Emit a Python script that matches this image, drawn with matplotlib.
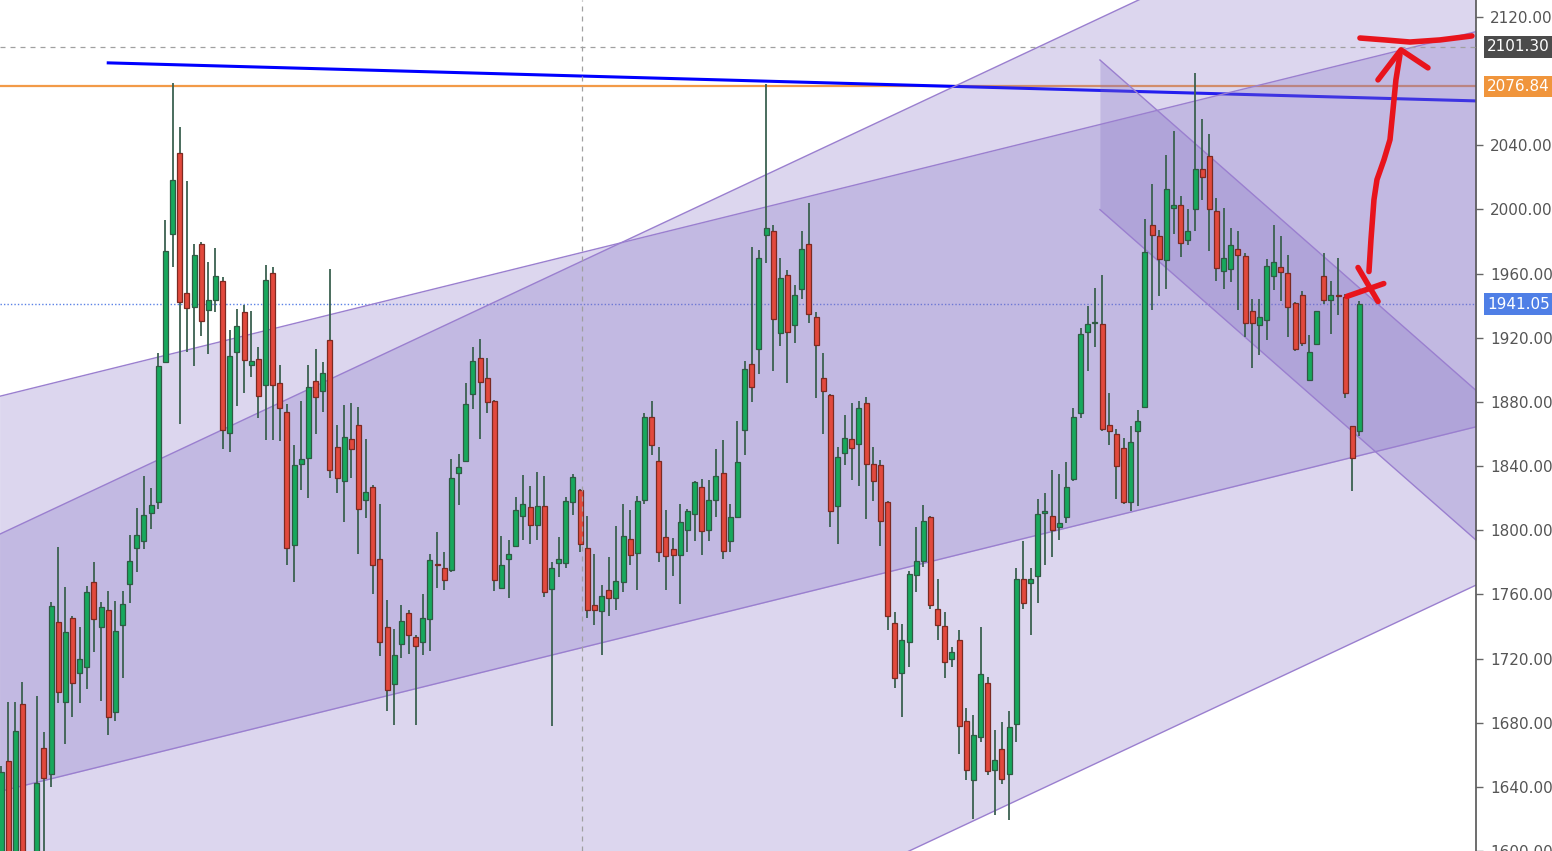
import matplotlib.pyplot as plt
import numpy as np

# daily candles (bar index = position from the left edge)
opens = [
    1590, 1656.4, 1596, 1691.9, 1592, 1585, 1664.5, 1647.7, 1742.9, 1693.1,
    1745.4, 1711.1, 1714.9, 1767.8, 1739.8, 1750.4, 1686.9, 1741.0, 1766.5, 1788.9,
    1793.5, 1810.8, 1817.7, 1905.0, 1985.0, 2034.9, 1948.2, 1939.3, 1978.4, 1937.2,
    1943.5, 1955.1, 1860.4, 1911.1, 1935.9, 1903.1, 1906.9, 1890.7, 1960.1, 1892.0,
    1873.6, 1790.8, 1841.2, 1844.9, 1893.0, 1886.8, 1918.4, 1852.0, 1830.4, 1856.9,
    1865.9, 1819.0, 1827.1, 1782.1, 1739.4, 1704.0, 1729.2, 1748.3, 1733.5, 1730.2,
    1744.8, 1779.2, 1776.2, 1775.0, 1835.4, 1843.1, 1885.2, 1907.6, 1894.9, 1880.6,
    1764.2, 1782.1, 1790.4, 1808.9, 1814.3, 1803.3, 1815.3, 1763.4, 1779.6, 1779.6,
    1817.4, 1825.0, 1788.9, 1753.1, 1749.9, 1762.8, 1757.7, 1768.0, 1794.5, 1785.8,
    1819.0, 1870.6, 1843.3, 1795.6, 1788.0, 1784.8, 1800.3, 1810.1, 1826.7, 1800.3,
    1819.0, 1835.6, 1793.5, 1808.0, 1862.6, 1903.9, 1913.2, 1983.9, 1986.4, 1922.7,
    1959.3, 1927.7, 1950.1, 1978.5, 1932.9, 1895.2, 1884.2, 1815.3, 1848.1, 1856.8,
    1853.7, 1879.6, 1841.6, 1840.6, 1817.4, 1742.3, 1710.9, 1730.2, 1772.3, 1781.0,
    1808.4, 1751.0, 1740.2, 1719.9, 1731.7, 1681.1, 1644.1, 1671.1, 1704.9, 1650.8,
    1663.7, 1647.7, 1678.9, 1769.7, 1767.0, 1771.5, 1811.0, 1808.6, 1802.1, 1808.2,
    1832.1, 1873.3, 1923.7, 1929.0, 1928.8, 1865.9, 1859.9, 1851.2, 1817.7, 1861.6,
    1877.1, 1990.1, 1983.3, 1968.3, 2000.7, 2003.0, 1981.2, 2000.5, 2025.4, 2033.1,
    1998.8, 1961.5, 1962.6, 1975.6, 1970.8, 1936.6, 1927.7, 1930.8, 1958.8, 1964.0,
    1960.5, 1941.8, 1946.4, 1893.7, 1915.9, 1958.8, 1943.3, 1946.8, 1945.6, 1864.7,
    1861.6,
]
highs = [
    1653.3, 1693.1, 1693.1, 1705.6, 1598, 1696.8, 1674.4, 1755.3, 1789.6, 1764.7,
    1746.6, 1739.8, 1765.3, 1780.2, 1755.3, 1762.2, 1755.9, 1762.2, 1797.0, 1813.8,
    1833.9, 1826.1, 1910.7, 1993.4, 2079.1, 2051.7, 2018.0, 1978.7, 1979.7, 1967.1,
    1975.9, 1957.6, 1924.6, 1938.0, 1940.2, 1937.0, 1914.5, 1965.4, 1964.4, 1902.8,
    1878.6, 1853.2, 1880.6, 1902.8, 1912.8, 1905.1, 1962.6, 1865.9, 1877.9, 1879.6,
    1876.7, 1857.1, 1828.2, 1816.3, 1756.2, 1738.5, 1753.3, 1750.0, 1734.5, 1760.3,
    1785.2, 1798.7, 1786.2, 1844.7, 1847.4, 1892.0, 1914.4, 1919.4, 1907.6, 1881.0,
    1796.2, 1794.1, 1820.5, 1834.7, 1827.3, 1836.0, 1833.9, 1780.4, 1796.0, 1820.5,
    1834.8, 1825.7, 1809.0, 1785.4, 1765.9, 1783.1, 1802.8, 1816.3, 1812.6, 1821.1,
    1872.9, 1880.6, 1851.6, 1812.6, 1795.2, 1816.3, 1813.0, 1830.8, 1831.9, 1831.3,
    1850.4, 1856.3, 1816.3, 1867.8, 1905.5, 1976.7, 1975.0, 2078.0, 1990.6, 1969.8,
    1962.1, 1952.6, 1986.4, 2004.1, 1936.0, 1910.7, 1884.8, 1851.6, 1871.7, 1879.6,
    1880.6, 1883.3, 1851.6, 1843.7, 1818.0, 1749.3, 1741.6, 1774.8, 1801.8, 1815.7,
    1809.0, 1769.8, 1749.3, 1727.1, 1737.5, 1689.2, 1684.6, 1739.7, 1708.7, 1675.6,
    1680.4, 1687.1, 1776.4, 1793.0, 1776.4, 1819.2, 1823.3, 1837.7, 1834.8, 1842.6,
    1875.9, 1926.3, 1939.9, 1950.8, 1959.2, 1885.5, 1863.1, 1857.4, 1865.0, 1874.8,
    1994.1, 2015.9, 1987.5, 2034.1, 2049.1, 2008.2, 2000.3, 2085.3, 2056.5, 2047.0,
    2007.2, 2001.0, 1988.5, 1986.4, 1973.0, 1943.9, 1943.9, 1969.2, 1990.6, 1983.7,
    1971.9, 1942.5, 1949.1, 1921.5, 1936.6, 1973.0, 1955.7, 1969.8, 1947.6, 1865.0,
    1942.8,
]
lows = [
    1575, 1585, 1588, 1580, 1568, 1578, 1598, 1640.0, 1692.5, 1667.0,
    1683.8, 1692.5, 1701.2, 1724.2, 1693.7, 1672.6, 1681.3, 1708.0, 1754.7, 1774.0,
    1788.3, 1800.9, 1813.5, 1904.0, 1964.4, 1866.1, 1911.1, 1902.3, 1920.8, 1909.8,
    1935.9, 1850.7, 1848.6, 1877.7, 1885.5, 1895.5, 1869.9, 1856.2, 1856.2, 1855.7,
    1778.2, 1767.9, 1825.2, 1820.2, 1860.3, 1874.0, 1832.3, 1823.4, 1804.9, 1832.3,
    1785.4, 1807.7, 1760.3, 1721.3, 1687.1, 1678.4, 1720.3, 1722.6, 1678.4, 1722.3,
    1724.4, 1764.2, 1763.0, 1773.8, 1815.7, 1843.1, 1875.3, 1856.6, 1872.9, 1762.4,
    1764.2, 1757.7, 1790.4, 1794.1, 1791.4, 1794.1, 1758.3, 1678.0, 1770.7, 1776.5,
    1809.5, 1786.2, 1745.2, 1740.6, 1722.3, 1746.4, 1750.5, 1761.4, 1778.2, 1763.0,
    1816.3, 1846.8, 1780.4, 1763.0, 1771.7, 1754.1, 1786.7, 1793.5, 1784.8, 1793.5,
    1808.0, 1782.1, 1786.7, 1808.0, 1846.8, 1880.0, 1897.6, 1966.7, 1899.3, 1914.8,
    1891.6, 1916.5, 1944.3, 1929.4, 1882.7, 1860.3, 1801.8, 1791.4, 1840.6, 1831.3,
    1827.3, 1807.0, 1818.4, 1790.4, 1738.1, 1701.8, 1683.6, 1714.7, 1761.4, 1776.9,
    1751.0, 1731.3, 1708.0, 1714.7, 1660.7, 1644.1, 1619.9, 1667.8, 1647.1, 1622.7,
    1642.0, 1619.3, 1668.2, 1750.9, 1734.9, 1754.4, 1778.6, 1783.0, 1793.7, 1804.8,
    1830.8, 1870.1, 1899.3, 1914.1, 1862.1, 1853.3, 1819.7, 1816.3, 1811.8, 1814.9,
    1877.1, 1937.2, 1945.9, 1950.7, 1985.0, 1970.2, 1978.1, 1986.8, 2006.1, 1973.9,
    1955.7, 1950.7, 1954.7, 1937.2, 1920.7, 1901.4, 1909.0, 1918.6, 1949.7, 1942.8,
    1920.7, 1911.7, 1914.8, 1893.7, 1915.9, 1940.8, 1922.5, 1934.1, 1882.7, 1824.6,
    1858.5,
]
closes = [
    1649.5, 1595, 1675.1, 1590, 1575, 1642.1, 1645.8, 1752.8, 1699.3, 1736.6,
    1704.9, 1719.9, 1761.6, 1744.8, 1752.2, 1683.8, 1737.3, 1754.1, 1780.8, 1797.0,
    1809.3, 1816.0, 1902.5, 1974.4, 2018.6, 1942.3, 1938.5, 1971.7, 1930.3, 1943.5,
    1958.3, 1862.3, 1908.6, 1927.1, 1906.1, 1905.7, 1884.0, 1956.1, 1890.3, 1876.1,
    1788.8, 1840.6, 1844.3, 1889.3, 1883.1, 1897.8, 1837.3, 1832.3, 1858.0, 1850.7,
    1813.0, 1824.0, 1778.2, 1730.3, 1700.1, 1721.9, 1743.3, 1734.4, 1728.1, 1745.2,
    1781.3, 1778.2, 1769.2, 1832.7, 1839.6, 1878.4, 1905.5, 1892.7, 1880.2, 1769.2,
    1778.4, 1785.0, 1812.4, 1816.3, 1803.3, 1815.3, 1761.4, 1776.3, 1782.1, 1818.2,
    1833.0, 1791.4, 1750.5, 1750.5, 1758.9, 1757.7, 1768.6, 1796.6, 1784.7, 1818.2,
    1870.6, 1853.0, 1786.7, 1783.8, 1784.8, 1805.3, 1812.2, 1829.8, 1799.3, 1819.0,
    1833.9, 1786.9, 1808.4, 1842.6, 1900.7, 1889.6, 1969.8, 1988.5, 1931.9, 1957.4,
    1923.5, 1946.4, 1975.6, 1934.6, 1915.3, 1886.8, 1812.2, 1845.4, 1857.8, 1851.0,
    1876.5, 1841.2, 1830.4, 1805.9, 1746.8, 1708.0, 1731.7, 1772.6, 1781.0, 1805.5,
    1753.6, 1741.0, 1717.8, 1724.0, 1678.0, 1650.8, 1672.1, 1710.4, 1649.7, 1656.6,
    1644.9, 1677.5, 1769.7, 1754.4, 1769.7, 1810.4, 1812.0, 1800.4, 1804.4, 1827.0,
    1870.8, 1922.1, 1928.8, 1929.5, 1863.2, 1862.1, 1839.9, 1817.7, 1855.1, 1867.8,
    1973.6, 1983.9, 1969.4, 2012.8, 2003.0, 1979.2, 1986.4, 2025.4, 2020.0, 2000.5,
    1963.6, 1969.8, 1977.7, 1971.5, 1929.4, 1929.4, 1933.1, 1965.0, 1967.1, 1960.9,
    1939.3, 1913.2, 1916.9, 1911.3, 1936.6, 1943.3, 1946.4, 1946.0, 1885.8, 1844.9,
    1941.05,
]

# 2080 sits under the alert tag, so it is left out like in the screenshot
price_ticks = [1600, 1640, 1680, 1720, 1760, 1800, 1840, 1880, 1920, 1960, 2000, 2040, 2120]

last_price = 1941.05
alert_price = 2076.84
cursor_price = 2101.30
cursor_bar = 81.3

# blue trend line (bar, price)
trend_bars = [15.0, 206.2]
trend_prices = [2091.4, 2067.7]

# channels: bars, upper edge prices, width in price
chan_a_bars = [-0.2, 206.5]
chan_a_top = [1797.5, 2229.7]
chan_a_width = 463.5
chan_b_bars = [-0.2, 206.5]
chan_b_top = [1883.5, 2111.1]
chan_b_width = 246.4
chan_c_bars = [153.7, 206.5]
chan_c_top = [2093.2, 1886.4]
chan_c_width = 93.3

# hand drawn red marks
cross1_bars = [188.25, 193.4]
cross1_prices = [1945.8, 1953.8]
cross2_bars = [189.8, 192.6]
cross2_prices = [1963.8, 1942.6]
arrow_bars = [191.33, 191.61, 192.03, 192.45, 193.43, 194.27, 194.69, 195.10, 195.66]
arrow_prices = [1961.3, 1981.2, 2006.1, 2018.6, 2031.0, 2043.5, 2062.1, 2080.8, 2096.4]
head_bars = [192.59, 195.80, 199.58]
head_prices = [2080.8, 2099.5, 2088.3]
target_bars = [190.07, 193.57, 197.06, 201.26, 205.73]
target_prices = [2106.9, 2105.7, 2104.4, 2105.7, 2108.2]

fig = plt.figure(figsize=(15.52, 8.51), dpi=100)
ax = fig.add_axes([0, 0, 1476 / 1552, 1])

o = np.array(opens)
h = np.array(highs)
l = np.array(lows)
c = np.array(closes)
x = np.arange(len(o))

# channels
fill_col = (130 / 255, 110 / 255, 195 / 255)
for bars, top, width in [(chan_a_bars, chan_a_top, chan_a_width),
                         (chan_b_bars, chan_b_top, chan_b_width),
                         (chan_c_bars, chan_c_top, chan_c_width)]:
    top = np.array(top)
    ax.fill_between(bars, top - width, top, color=fill_col, alpha=0.28, lw=0, zorder=2)
    ax.plot(bars, top, color='#9a7fcf', lw=1, zorder=2.5)
    ax.plot(bars, top - width, color='#9a7fcf', lw=1, zorder=2.5)

# horizontal levels and trend line
ax.axhline(alert_price, color='#f29a48', lw=1.6, zorder=1)
ax.axhline(last_price, color='#5b82e6', lw=1, ls=(0, (1, 1.5)), zorder=1)
ax.plot(trend_bars, trend_prices, color='#0000ff', lw=2.2, zorder=1.5)

# candles
up = c >= o
body_lo = np.minimum(o, c)
body_h = np.maximum(np.abs(c - o), 0.7)
ax.vlines(x, l, h, color='#3b6150', lw=1.3, zorder=3)
ax.bar(x[up], body_h[up], bottom=body_lo[up], width=0.7,
       color='#17a85d', edgecolor='#2f5a43', linewidth=0.9, zorder=4)
ax.bar(x[~up], body_h[~up], bottom=body_lo[~up], width=0.7,
       color='#e2493d', edgecolor='#7c2a22', linewidth=0.9, zorder=4)

# crosshair
ax.axhline(cursor_price, color='#a0a0a0', lw=0.9, ls=(0, (4, 4)), zorder=5)
ax.axvline(cursor_bar, color='#a0a0a0', lw=0.9, ls=(0, (4, 4)), zorder=5)

# red marker drawing
red = '#e8141c'
for bx, py in [(cross1_bars, cross1_prices), (cross2_bars, cross2_prices),
               (arrow_bars, arrow_prices), (head_bars, head_prices),
               (target_bars, target_prices)]:
    ax.plot(bx, py, color=red, lw=4, solid_capstyle='round',
            solid_joinstyle='round', zorder=6)

ax.set_xlim(-0.14, 206.3)
ax.set_ylim(1601.0, 2130.6)

ax.set_yticks(price_ticks)
ax.set_yticklabels([f'{v:.2f}' for v in price_ticks])
ax.yaxis.tick_right()
ax.tick_params(axis='y', length=5, width=1, color='#666666',
               labelcolor='#555555', labelsize=11, pad=5)
ax.set_xticks([])
for side in ['top', 'bottom', 'left']:
    ax.spines[side].set_visible(False)
ax.spines['right'].set_color('#555555')
ax.spines['right'].set_linewidth(1.2)

# price tags on the scale
tf = ax.get_yaxis_transform()
for price, bg in [(cursor_price, '#4b4b4b'), (alert_price, '#f0953c'), (last_price, '#4f7fe6')]:
    ax.text(1.0075, price, f'{price:.2f}', transform=tf, ha='left', va='center',
            fontsize=11, color='white', clip_on=False, zorder=10,
            bbox=dict(boxstyle='square,pad=0.2', fc=bg, ec='none'))

fig.savefig('out.png', dpi=100)
